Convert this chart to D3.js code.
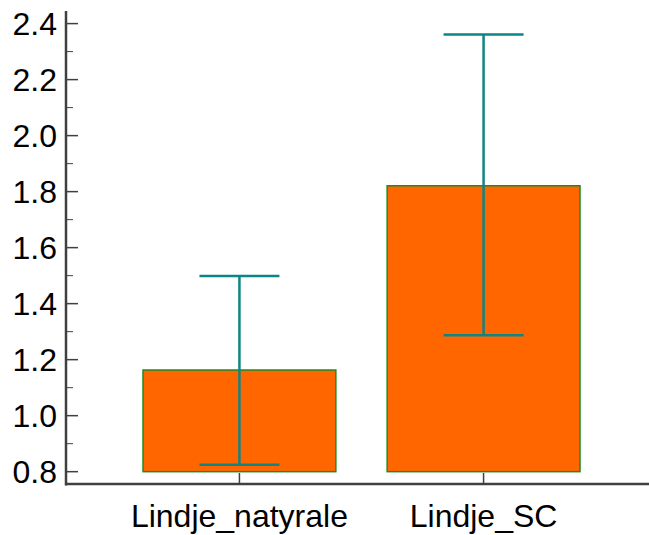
<!DOCTYPE html>
<html>
<head>
<meta charset="utf-8">
<script src="https://cdn.jsdelivr.net/npm/d3@7"></script>
<style>
  body { margin: 0; background: #fff; }
  svg { display: block; font-family: "Liberation Sans", Arial, sans-serif; }
</style>
</head>
<body>
<svg id="chart" width="649" height="535"></svg>
<script>
var categories = ['Lindje_natyrale', 'Lindje_SC'];
var means = [1.163, 1.821];
var lower = [0.825, 1.287];
var upper = [1.499, 2.361];
var yTicks = [0.8, 1.0, 1.2, 1.4, 1.6, 1.8, 2.0, 2.2, 2.4];
var yMinor = [0.9, 1.1, 1.3, 1.5, 1.7, 1.9, 2.1, 2.3];

var svg = d3.select('#chart');
var axisColor = '#404040';

var x = d3.scaleBand()
  .domain(categories)
  .range([143, 580])
  .paddingInner(0.21)
  .paddingOuter(0);

var y = d3.scaleLinear()
  .domain([0.756, 2.445])
  .range([484, 11]);

var base = 0.8;

// bars
svg.selectAll('rect.bar')
  .data(categories)
  .enter().append('rect')
  .attr('class', 'bar')
  .attr('x', function(d) { return x(d); })
  .attr('width', x.bandwidth())
  .attr('y', function(d, i) { return y(means[i]); })
  .attr('height', function(d, i) { return y(base) - y(means[i]); })
  .style('fill', '#ff6600')
  .style('stroke', '#1f8a1f')
  .style('stroke-width', 1.5);

// error bars
var errColor = '#0e8585';
var capHalf = 40;
var eb = svg.selectAll('g.err')
  .data(categories)
  .enter().append('g')
  .attr('class', 'err');

eb.append('line')
  .attr('x1', function(d) { return x(d) + x.bandwidth() / 2; })
  .attr('x2', function(d) { return x(d) + x.bandwidth() / 2; })
  .attr('y1', function(d, i) { return y(lower[i]); })
  .attr('y2', function(d, i) { return y(upper[i]); });

eb.append('line')
  .attr('x1', function(d) { return x(d) + x.bandwidth() / 2 - capHalf; })
  .attr('x2', function(d) { return x(d) + x.bandwidth() / 2 + capHalf; })
  .attr('y1', function(d, i) { return y(upper[i]); })
  .attr('y2', function(d, i) { return y(upper[i]); });

eb.append('line')
  .attr('x1', function(d) { return x(d) + x.bandwidth() / 2 - capHalf; })
  .attr('x2', function(d) { return x(d) + x.bandwidth() / 2 + capHalf; })
  .attr('y1', function(d, i) { return y(lower[i]); })
  .attr('y2', function(d, i) { return y(lower[i]); });

eb.selectAll('line')
  .style('stroke', errColor)
  .style('stroke-width', 2.5);

// y axis
var yAxis = svg.append('g');
yAxis.append('line')
  .attr('x1', 66).attr('x2', 66)
  .attr('y1', y.range()[1]).attr('y2', y.range()[0] + 1.5)
  .style('stroke', axisColor).style('stroke-width', 2.5);

yAxis.selectAll('line.major')
  .data(yTicks)
  .enter().append('line')
  .attr('class', 'major')
  .attr('x1', 66).attr('x2', 78)
  .attr('y1', function(d) { return y(d); })
  .attr('y2', function(d) { return y(d); })
  .style('stroke', axisColor).style('stroke-width', 1.5);

yAxis.selectAll('line.minor')
  .data(yMinor)
  .enter().append('line')
  .attr('class', 'minor')
  .attr('x1', 66).attr('x2', 73)
  .attr('y1', function(d) { return y(d); })
  .attr('y2', function(d) { return y(d); })
  .style('stroke', axisColor).style('stroke-width', 1);

yAxis.selectAll('text')
  .data(yTicks)
  .enter().append('text')
  .attr('x', 57)
  .attr('y', function(d) { return y(d); })
  .attr('dy', '0.36em')
  .attr('text-anchor', 'end')
  .style('font-size', '32px')
  .style('fill', '#000')
  .text(function(d) { return d3.format('.1f')(d); });

// x axis
var xAxis = svg.append('g');
xAxis.append('line')
  .attr('x1', 65).attr('x2', 649)
  .attr('y1', 484).attr('y2', 484)
  .style('stroke', axisColor).style('stroke-width', 2.5);

xAxis.selectAll('line.tick')
  .data(categories)
  .enter().append('line')
  .attr('class', 'tick')
  .attr('x1', function(d) { return x(d) + x.bandwidth() / 2; })
  .attr('x2', function(d) { return x(d) + x.bandwidth() / 2; })
  .attr('y1', 473).attr('y2', 484)
  .style('stroke', axisColor).style('stroke-width', 1.5);

xAxis.selectAll('text')
  .data(categories)
  .enter().append('text')
  .attr('x', function(d) { return x(d) + x.bandwidth() / 2; })
  .attr('y', 527)
  .attr('text-anchor', 'middle')
  .style('font-size', '32px')
  .style('fill', '#000')
  .text(function(d) { return d; });
</script>
</body>
</html>
